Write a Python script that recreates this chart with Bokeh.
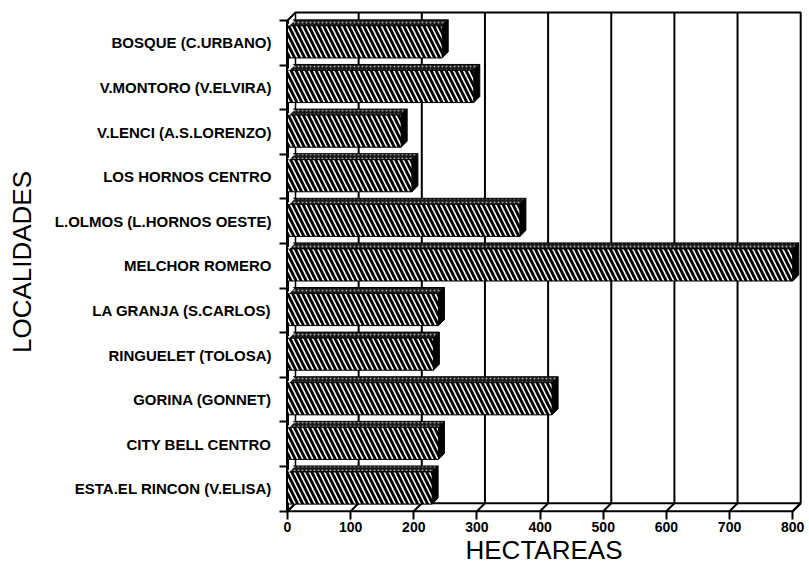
import math
from bokeh.plotting import figure
from bokeh.models import FixedTicker, Range1d, ColumnDataSource
from bokeh.embed import file_html
from bokeh.resources import INLINE

# ---------------- data ----------------
localidades = [
    "BOSQUE (C.URBANO)",
    "V.MONTORO (V.ELVIRA)",
    "V.LENCI (A.S.LORENZO)",
    "LOS HORNOS CENTRO",
    "L.OLMOS (L.HORNOS OESTE)",
    "MELCHOR ROMERO",
    "LA GRANJA (S.CARLOS)",
    "RINGUELET (TOLOSA)",
    "GORINA (GONNET)",
    "CITY BELL CENTRO",
    "ESTA.EL RINCON (V.ELISA)",
]
hectareas = [245, 295, 180, 197, 368, 800, 239, 231, 419, 239, 229]
x_ticks = [0, 100, 200, 300, 400, 500, 600, 700, 800]
x_title = "HECTAREAS"
y_title = "LOCALIDADES"

# ---------------- geometry / style ----------------
PX_X = 0.6315      # px per hectare
PX_Y = 44.7        # px per row
WALL = 8           # px depth of the 3D box
BAR_D = 6          # px depth of bars
BAR_H = 0.72
BAR_SHIFT = 0.02

n = len(localidades)
wx, wy = WALL / PX_X, WALL / PX_Y
bx, by = BAR_D / PX_X, BAR_D / PX_Y
top_y = n + wy
xmax = x_ticks[-1]

W, H = 805, 567
LB, RB, TB, BB = 285, 3, 10, 53
frame_w = W - LB - RB
frame_h = H - TB - BB
xs0 = -2 / PX_X
ys0 = -2.3 / PX_Y

p = figure(width=W, height=H,
           x_range=Range1d(xs0, xs0 + frame_w / PX_X),
           y_range=Range1d(ys0, ys0 + frame_h / PX_Y),
           output_backend="svg", toolbar_location=None,
           min_border_left=LB, min_border_right=RB,
           min_border_top=TB, min_border_bottom=BB)
p.outline_line_color = None
p.xgrid.visible = False
p.ygrid.visible = False
p.background_fill_color = "white"
p.border_fill_color = "white"

TICK_FONT = "Liberation Sans"
TITLE_FONT = "Liberation Sans"

# x axis
xa = p.xaxis[0]
xa.ticker = FixedTicker(ticks=x_ticks)
xa.axis_line_color = None
xa.major_tick_in = 2
xa.major_tick_out = 6
xa.major_tick_line_width = 2
xa.major_tick_line_color = "black"
xa.minor_tick_line_color = None
xa.major_label_text_font = TICK_FONT
xa.major_label_text_font_style = "bold"
xa.major_label_text_font_size = "14px"
xa.major_label_text_color = "black"
xa.major_label_standoff = 2
xa.axis_label = x_title
xa.axis_label_text_font = TITLE_FONT
xa.axis_label_text_font_style = "normal"
xa.axis_label_text_font_size = "26px"
xa.axis_label_text_color = "black"
xa.axis_label_standoff = 0

# y axis (categories at row centres, ticks at row boundaries)
positions = [n - 1 - k for k in range(n)]
centers = [pos + 0.5 for pos in positions]
overrides = {}
for c, name in zip(centers, localidades):
    overrides[c] = name
    overrides[str(c)] = name
ya = p.yaxis[0]
ya.ticker = FixedTicker(ticks=sorted(centers), minor_ticks=list(range(n + 1)))
ya.major_label_overrides = overrides
ya.major_tick_line_color = None
ya.major_tick_in = 0
ya.major_tick_out = 0
ya.minor_tick_in = 2
ya.minor_tick_out = 6
ya.minor_tick_line_width = 2
ya.minor_tick_line_color = "black"
ya.axis_line_color = None
ya.major_label_text_font = TICK_FONT
ya.major_label_text_font_style = "bold"
ya.major_label_text_font_size = "15px"
ya.major_label_text_color = "black"
ya.major_label_standoff = 8
ya.axis_label = y_title
ya.axis_label_text_font = TITLE_FONT
ya.axis_label_text_font_style = "normal"
ya.axis_label_text_font_size = "26px"
ya.axis_label_text_color = "black"
ya.axis_label_standoff = 15

# ---------------- 3D box ----------------
grid_x = [t + wx for t in x_ticks[1:-1]]
p.segment(x0=grid_x, y0=[wy] * len(grid_x), x1=grid_x, y1=[top_y] * len(grid_x),
          line_color="black", line_width=2)
# back wall outline
p.line(x=[0, wx, xmax + wx, xmax + wx], y=[n, top_y, top_y, wy],
       line_color="black", line_width=2)
# back-left edge
p.segment(x0=[wx], y0=[wy], x1=[wx], y1=[top_y], line_color="black", line_width=1.5)
# floor
p.patch(x=[0, xmax, xmax + wx, wx], y=[0, 0, wy, wy],
        fill_color="white", line_color="black", line_width=2)
p.segment(x0=x_ticks, y0=[0] * len(x_ticks), x1=[t + wx for t in x_ticks],
          y1=[wy] * len(x_ticks), line_color="black", line_width=2)
# front vertical axis line
p.segment(x0=[0], y0=[0], x1=[0], y1=[n], line_color="black", line_width=3)

# ---------------- bars ----------------
ymid = [c + BAR_SHIFT for c in centers]
src = ColumnDataSource(dict(y=ymid, right=hectareas))
top_xs, top_ys, side_xs, side_ys = [], [], [], []
for yc, v in zip(ymid, hectareas):
    yt, yb = yc + BAR_H / 2, yc - BAR_H / 2
    top_xs.append([0, v, v + bx, bx])
    top_ys.append([yt, yt, yt + by, yt + by])
    side_xs.append([v, v, v + bx, v + bx])
    side_ys.append([yb, yt, yt + by, yb + by])

p.patches(xs=side_xs, ys=side_ys, fill_color="black", line_color="black", line_width=1)
p.patches(xs=top_xs, ys=top_ys, fill_color="#1a1a1a", line_color="black", line_width=1,
          hatch_pattern=".", hatch_color="white", hatch_scale=4, hatch_weight=0.7,
          hatch_alpha=0.6)
p.hbar(y="y", right="right", left=0, height=BAR_H, source=src,
       fill_color="black", line_color="black", line_width=1,
       hatch_pattern="\\", hatch_color="white", hatch_scale=10, hatch_weight=1.6)
# white slash at the left end of each bar's top face
p.segment(x0=[1.5] * n, y0=[yc + BAR_H / 2 + 0.01 for yc in ymid],
          x1=[bx] * n, y1=[yc + BAR_H / 2 + by - 0.01 for yc in ymid],
          line_color="white", line_width=2)

open("out.html", "w").write(file_html(p, INLINE))
